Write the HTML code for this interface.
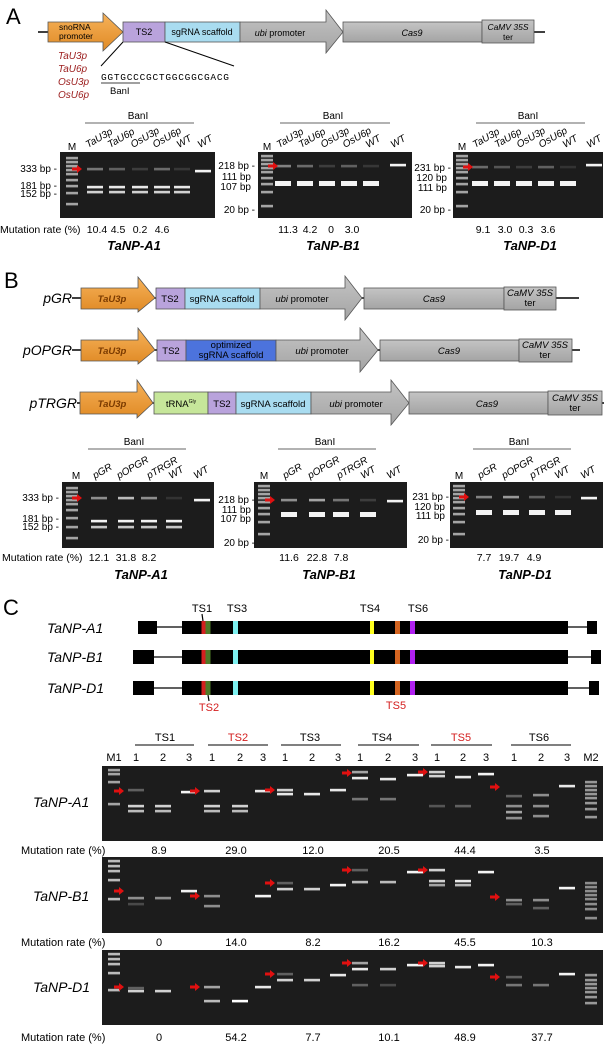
<!DOCTYPE html>
<html><head><meta charset="utf-8"><style>
html,body{margin:0;padding:0;background:#fff;}
svg{display:block;font-family:"Liberation Sans",Arial,sans-serif;}
.it{font-style:italic}
.b{font-weight:bold}
</style></head><body>
<svg id="s" width="608" height="1044" viewBox="0 0 608 1044" xmlns="http://www.w3.org/2000/svg">
<defs>
<linearGradient id="og" x1="0" y1="0" x2="0" y2="1"><stop offset="0" stop-color="#f6b25a"/><stop offset="1" stop-color="#e08a25"/></linearGradient>
<linearGradient id="gg" x1="0" y1="0" x2="0" y2="1"><stop offset="0" stop-color="#c4c4c4"/><stop offset="1" stop-color="#a4a4a4"/></linearGradient>
</defs>
<g id="gels"></g>
<!-- Panel A -->
<text x="6" y="24" font-size="22">A</text>
<line x1="38" y1="32" x2="545" y2="32" stroke="#000" stroke-width="1.5"/>
<polygon points="48,22 103,22 103,13 123,32 103,51 103,42 48,42" fill="url(#og)" stroke="#555" stroke-width="0.8"/>
<rect x="123" y="22" width="42" height="20" fill="#b9a3dc" stroke="#555" stroke-width="0.8"/>
<rect x="165" y="22" width="75" height="20" fill="#a9dcf0" stroke="#555" stroke-width="0.8"/>
<polygon points="240,22 326,22 326,10 343,32 326,53 326,42 240,42" fill="url(#gg)" stroke="#555" stroke-width="0.8"/>
<rect x="343" y="22" width="139" height="20" fill="url(#gg)" stroke="#555" stroke-width="0.8"/>
<rect x="482" y="20" width="52" height="23" fill="url(#gg)" stroke="#555" stroke-width="0.8"/>
<text x="59" y="30" font-size="8.5">snoRNA</text><text x="59" y="39" font-size="8.5">promoter</text>
<text x="144" y="35" font-size="9" text-anchor="middle">TS2</text>
<text x="202" y="35" font-size="9" text-anchor="middle">sgRNA scaffold</text>
<text x="280" y="36" font-size="9" text-anchor="middle"><tspan class="it">ubi</tspan> promoter</text>
<text x="412" y="36" font-size="9" text-anchor="middle" class="it">Cas9</text>
<text x="508" y="30" font-size="8.5" text-anchor="middle" class="it">CaMV 35S</text>
<text x="508" y="40" font-size="8.5" text-anchor="middle">ter</text>
<g fill="#9b1c1c" font-size="10" class="it"><text x="58" y="59">TaU3p</text><text x="58" y="72">TaU6p</text><text x="58" y="85">OsU3p</text><text x="58" y="98">OsU6p</text></g>
<line x1="123" y1="42" x2="101" y2="66" stroke="#000"/><line x1="165" y1="42" x2="234" y2="66" stroke="#000"/>
<text x="101" y="80" font-size="9.5" font-family="Liberation Mono,monospace" textLength="128">GGTGCCCGCTGGCGGCGACG</text>
<line x1="101" y1="83" x2="140" y2="83" stroke="#000" stroke-width="0.8"/>
<text x="110" y="94" font-size="9.5">BanI</text>
<!-- A gel labels -->
<g font-size="10">
<text x="138" y="119" text-anchor="middle">BanI</text><line x1="85" y1="123" x2="194" y2="123" stroke="#666"/>
<text x="333" y="119" text-anchor="middle">BanI</text><line x1="280" y1="123" x2="390" y2="123" stroke="#666"/>
<text x="528" y="119" text-anchor="middle">BanI</text><line x1="476" y1="123" x2="585" y2="123" stroke="#666"/>
<text x="72" y="150" text-anchor="middle">M</text><text x="267" y="150" text-anchor="middle">M</text><text x="462" y="150" text-anchor="middle">M</text>
<g class="it">
<text transform="translate(88,148) rotate(-30)">TaU3p</text><text transform="translate(110,148) rotate(-30)">TaU6p</text><text transform="translate(133,148) rotate(-30)">OsU3p</text><text transform="translate(155,148) rotate(-30)">OsU6p</text><text transform="translate(179,148) rotate(-30)">WT</text><text transform="translate(200,148) rotate(-30)">WT</text>
<text transform="translate(279,148) rotate(-30)">TaU3p</text><text transform="translate(301,148) rotate(-30)">TaU6p</text><text transform="translate(323,148) rotate(-30)">OsU3p</text><text transform="translate(345,148) rotate(-30)">OsU6p</text><text transform="translate(368,148) rotate(-30)">WT</text><text transform="translate(393,148) rotate(-30)">WT</text>
<text transform="translate(475,148) rotate(-30)">TaU3p</text><text transform="translate(497,148) rotate(-30)">TaU6p</text><text transform="translate(519,148) rotate(-30)">OsU3p</text><text transform="translate(541,148) rotate(-30)">OsU6p</text><text transform="translate(565,148) rotate(-30)">WT</text><text transform="translate(589,148) rotate(-30)">WT</text>
</g>
<g text-anchor="end">
<text x="57" y="172">333 bp -</text><text x="57" y="189">181 bp -</text><text x="57" y="197">152 bp -</text>
<text x="255" y="169">218 bp -</text><text x="251" y="180">111 bp</text><text x="251" y="190">107 bp</text><text x="255" y="213">20 bp -</text>
<text x="451" y="171">231 bp -</text><text x="447" y="181">120 bp</text><text x="447" y="191">111 bp</text><text x="451" y="213">20 bp -</text>
</g>
<text x="0" y="233" font-size="10.5">Mutation rate (%)</text>
<g font-size="10.5" text-anchor="middle">
<text x="97" y="233">10.4</text><text x="118" y="233">4.5</text><text x="140" y="233">0.2</text><text x="162" y="233">4.6</text>
<text x="288" y="233">11.3</text><text x="310" y="233">4.2</text><text x="331" y="233">0</text><text x="352" y="233">3.0</text>
<text x="483" y="233">9.1</text><text x="505" y="233">3.0</text><text x="526" y="233">0.3</text><text x="548" y="233">3.6</text>
</g>
</g>
<g font-size="13" class="it b" text-anchor="middle"><text x="134" y="250">TaNP-A1</text><text x="333" y="250">TaNP-B1</text><text x="530" y="250">TaNP-D1</text></g>

<!-- Panel B -->
<text x="4" y="288" font-size="22">B</text>
<g font-size="14" class="it" text-anchor="end"><text x="72" y="303">pGR</text><text x="72" y="355">pOPGR</text><text x="77" y="408">pTRGR</text></g>
<line x1="72" y1="298" x2="579" y2="298" stroke="#000" stroke-width="1.5"/>
<line x1="72" y1="350" x2="580" y2="350" stroke="#000" stroke-width="1.5"/>
<line x1="77" y1="403" x2="604" y2="403" stroke="#000" stroke-width="1.5"/>
<g stroke="#555" stroke-width="0.8">
<polygon points="81,288 138,288 138,277 155,298 138,312 138,309 81,309" fill="url(#og)"/>
<rect x="156" y="288" width="29" height="21" fill="#b9a3dc"/><rect x="185" y="288" width="75" height="21" fill="#a9dcf0"/>
<polygon points="260,288 345,288 345,276 362,298 345,320 345,309 260,309" fill="url(#gg)"/>
<rect x="364" y="288" width="140" height="21" fill="url(#gg)"/><rect x="504" y="287" width="52" height="23" fill="url(#gg)"/>
<polygon points="81,340 138,340 138,328 155,350 138,364 138,361 81,361" fill="url(#og)"/>
<rect x="157" y="340" width="29" height="21" fill="#b9a3dc"/><rect x="186" y="340" width="90" height="21" fill="#4c73dd"/>
<polygon points="276,340 360,340 360,328 378,350 360,372 360,361 276,361" fill="url(#gg)"/>
<rect x="380" y="340" width="139" height="21" fill="url(#gg)"/><rect x="519" y="339" width="53" height="23" fill="url(#gg)"/>
<polygon points="80,392 137,392 137,380 153,403 137,418 137,414 80,414" fill="url(#og)"/>
<rect x="154" y="392" width="54" height="22" fill="#c6e69a"/><rect x="208" y="392" width="28" height="22" fill="#b9a3dc"/><rect x="236" y="392" width="75" height="22" fill="#a9dcf0"/>
<polygon points="311,392 391,392 391,380 409,403 391,425 391,414 311,414" fill="url(#gg)"/>
<rect x="409" y="392" width="139" height="22" fill="url(#gg)"/><rect x="548" y="391" width="54" height="24" fill="url(#gg)"/>
</g>
<g font-size="9.5">
<text x="112" y="302" text-anchor="middle" class="it b" fill="#7a3a00">TaU3p</text>
<text x="112" y="354" text-anchor="middle" class="it b" fill="#7a3a00">TaU3p</text>
<text x="112" y="407" text-anchor="middle" class="it b" fill="#7a3a00">TaU3p</text>
<text x="170" y="302" text-anchor="middle">TS2</text><text x="222" y="302" text-anchor="middle">sgRNA scaffold</text>
<text x="302" y="302" text-anchor="middle"><tspan class="it">ubi</tspan> promoter</text><text x="434" y="302" text-anchor="middle" class="it">Cas9</text>
<text x="530" y="296" text-anchor="middle" class="it">CaMV 35S</text><text x="530" y="306" text-anchor="middle">ter</text>
<text x="171" y="354" text-anchor="middle">TS2</text><text x="231" y="348" text-anchor="middle">optimized</text><text x="231" y="358" text-anchor="middle">sgRNA scaffold</text>
<text x="322" y="354" text-anchor="middle"><tspan class="it">ubi</tspan> promoter</text><text x="449" y="354" text-anchor="middle" class="it">Cas9</text>
<text x="545" y="348" text-anchor="middle" class="it">CaMV 35S</text><text x="545" y="358" text-anchor="middle">ter</text>
<text x="181" y="407" text-anchor="middle">tRNA<tspan font-size="5" dy="-4">Gly</tspan></text><text x="222" y="407" text-anchor="middle">TS2</text><text x="273" y="407" text-anchor="middle">sgRNA scaffold</text>
<text x="356" y="407" text-anchor="middle"><tspan class="it">ubi</tspan> promoter</text><text x="487" y="407" text-anchor="middle" class="it">Cas9</text>
<text x="575" y="401" text-anchor="middle" class="it">CaMV 35S</text><text x="575" y="411" text-anchor="middle">ter</text>
</g>
<g font-size="10">
<text x="134" y="445" text-anchor="middle">BanI</text><line x1="88" y1="449" x2="186" y2="449" stroke="#666"/>
<text x="325" y="445" text-anchor="middle">BanI</text><line x1="278" y1="449" x2="376" y2="449" stroke="#666"/>
<text x="519" y="445" text-anchor="middle">BanI</text><line x1="473" y1="449" x2="571" y2="449" stroke="#666"/>
<text x="76" y="479" text-anchor="middle">M</text><text x="264" y="479" text-anchor="middle">M</text><text x="459" y="479" text-anchor="middle">M</text>
<g class="it">
<text transform="translate(95,479) rotate(-30)">pGR</text><text transform="translate(119,479) rotate(-30)">pOPGR</text><text transform="translate(149,479) rotate(-30)">pTRGR</text><text transform="translate(171,479) rotate(-30)">WT</text><text transform="translate(196,479) rotate(-30)">WT</text>
<text transform="translate(285,479) rotate(-30)">pGR</text><text transform="translate(310,479) rotate(-30)">pOPGR</text><text transform="translate(339,479) rotate(-30)">pTRGR</text><text transform="translate(363,479) rotate(-30)">WT</text><text transform="translate(389,479) rotate(-30)">WT</text>
<text transform="translate(480,479) rotate(-30)">pGR</text><text transform="translate(504,479) rotate(-30)">pOPGR</text><text transform="translate(532,479) rotate(-30)">pTRGR</text><text transform="translate(557,479) rotate(-30)">WT</text><text transform="translate(583,479) rotate(-30)">WT</text>
</g>
<g text-anchor="end">
<text x="59" y="501">333 bp -</text><text x="59" y="522">181 bp -</text><text x="59" y="530">152 bp -</text>
<text x="255" y="503">218 bp -</text><text x="251" y="513">111 bp</text><text x="251" y="522">107 bp</text><text x="255" y="546">20 bp -</text>
<text x="449" y="500">231 bp -</text><text x="445" y="510">120 bp</text><text x="445" y="519">111 bp</text><text x="449" y="543">20 bp -</text>
</g>
<text x="2" y="561" font-size="10.5">Mutation rate (%)</text>
<g font-size="10.5" text-anchor="middle">
<text x="99" y="561">12.1</text><text x="126" y="561">31.8</text><text x="149" y="561">8.2</text>
<text x="289" y="561">11.6</text><text x="317" y="561">22.8</text><text x="341" y="561">7.8</text>
<text x="484" y="561">7.7</text><text x="509" y="561">19.7</text><text x="534" y="561">4.9</text>
</g>
</g>
<g font-size="13" class="it b" text-anchor="middle"><text x="141" y="579">TaNP-A1</text><text x="329" y="579">TaNP-B1</text><text x="525" y="579">TaNP-D1</text></g>

<!-- Panel C -->
<text x="3" y="615" font-size="22">C</text>
<g font-size="14" class="it"><text x="47" y="633">TaNP-A1</text><text x="47" y="662">TaNP-B1</text><text x="47" y="693">TaNP-D1</text></g>
<g stroke="#000" stroke-width="1.2">
<line x1="157" y1="627" x2="182" y2="627"/><line x1="568" y1="627" x2="587" y2="627"/>
<line x1="154" y1="657" x2="182" y2="657"/><line x1="568" y1="657" x2="591" y2="657"/>
<line x1="154" y1="688" x2="182" y2="688"/><line x1="568" y1="688" x2="589" y2="688"/>
<line x1="202" y1="614" x2="203" y2="621"/><line x1="208" y1="695" x2="209" y2="701"/>
</g>
<g fill="#000">
<rect x="138" y="621" width="19" height="13"/><rect x="182" y="621" width="386" height="13"/><rect x="587" y="621" width="10" height="13"/>
<rect x="133" y="650" width="21" height="14"/><rect x="182" y="650" width="386" height="14"/><rect x="591" y="650" width="10" height="14"/>
<rect x="133" y="681" width="21" height="14"/><rect x="182" y="681" width="386" height="14"/><rect x="589" y="681" width="10" height="14"/>
</g>
<g>
<rect x="201.5" y="621" width="4" height="13" fill="#d42020"/><rect x="205.5" y="621" width="5" height="13" fill="#4e7a28"/><rect x="233" y="621" width="5" height="13" fill="#7ef0f0"/><rect x="370" y="621" width="4" height="13" fill="#ffff20"/><rect x="395" y="621" width="5" height="13" fill="#d46420"/><rect x="410" y="621" width="5" height="13" fill="#b020f0"/>
<rect x="201.5" y="650" width="4" height="14" fill="#d42020"/><rect x="205.5" y="650" width="5" height="14" fill="#4e7a28"/><rect x="233" y="650" width="5" height="14" fill="#7ef0f0"/><rect x="370" y="650" width="4" height="14" fill="#ffff20"/><rect x="395" y="650" width="5" height="14" fill="#d46420"/><rect x="410" y="650" width="5" height="14" fill="#b020f0"/>
<rect x="201.5" y="681" width="4" height="14" fill="#d42020"/><rect x="205.5" y="681" width="5" height="14" fill="#4e7a28"/><rect x="233" y="681" width="5" height="14" fill="#7ef0f0"/><rect x="370" y="681" width="4" height="14" fill="#ffff20"/><rect x="395" y="681" width="5" height="14" fill="#d46420"/><rect x="410" y="681" width="5" height="14" fill="#b020f0"/>
</g>
<g font-size="11" text-anchor="middle">
<text x="202" y="612">TS1</text><text x="237" y="612">TS3</text><text x="370" y="612">TS4</text><text x="418" y="612">TS6</text>
<text x="209" y="711" fill="#d42020">TS2</text><text x="396" y="709" fill="#d42020">TS5</text>
<text x="165" y="741">TS1</text><text x="238" y="741" fill="#d42020">TS2</text><text x="310" y="741">TS3</text><text x="382" y="741">TS4</text><text x="461" y="741" fill="#d42020">TS5</text><text x="539" y="741">TS6</text>
<text x="114" y="761">M1</text><text x="136" y="761">1</text><text x="163" y="761">2</text><text x="189" y="761">3</text>
<text x="212" y="761">1</text><text x="240" y="761">2</text><text x="263" y="761">3</text>
<text x="285" y="761">1</text><text x="312" y="761">2</text><text x="338" y="761">3</text>
<text x="360" y="761">1</text><text x="388" y="761">2</text><text x="415" y="761">3</text>
<text x="437" y="761">1</text><text x="463" y="761">2</text><text x="486" y="761">3</text>
<text x="514" y="761">1</text><text x="541" y="761">2</text><text x="567" y="761">3</text><text x="591" y="761">M2</text>
<text x="159" y="854">8.9</text><text x="236" y="854">29.0</text><text x="313" y="854">12.0</text><text x="389" y="854">20.5</text><text x="465" y="854">44.4</text><text x="542" y="854">3.5</text>
<text x="159" y="946">0</text><text x="236" y="946">14.0</text><text x="313" y="946">8.2</text><text x="389" y="946">16.2</text><text x="465" y="946">45.5</text><text x="542" y="946">10.3</text>
<text x="159" y="1041">0</text><text x="236" y="1041">54.2</text><text x="313" y="1041">7.7</text><text x="389" y="1041">10.1</text><text x="465" y="1041">48.9</text><text x="542" y="1041">37.7</text>
</g>
<g font-size="11"><text x="21" y="854">Mutation rate (%)</text><text x="21" y="946">Mutation rate (%)</text><text x="21" y="1041">Mutation rate (%)</text></g>
<g font-size="14" class="it"><text x="33" y="807">TaNP-A1</text><text x="33" y="901">TaNP-B1</text><text x="33" y="992">TaNP-D1</text></g>
<g stroke="#000" stroke-width="1"><line x1="135" y1="745" x2="194" y2="745"/><line x1="208" y1="745" x2="268" y2="745"/><line x1="281" y1="745" x2="341" y2="745"/><line x1="358" y1="745" x2="419" y2="745"/><line x1="431" y1="745" x2="492" y2="745"/><line x1="511" y1="745" x2="571" y2="745"/></g>
</svg>
<script>
var NS="http://www.w3.org/2000/svg",G=document.getElementById("gels");
function r(x,y,w,h,f,o){var e=document.createElementNS(NS,"rect");e.setAttribute("x",x);e.setAttribute("y",y);e.setAttribute("width",w);e.setAttribute("height",h);e.setAttribute("fill",f);if(o!=null)e.setAttribute("opacity",o);G.appendChild(e);}
function gel(x0,y0,x1,y1){r(x0,y0,x1-x0,y1-y0,"#1c1c1c");}
function b(c,y,o,w){w=w||16;r(c-w/2,y-1.2,w,2.6,"#fff",o);}
function ar(x,y){var e=document.createElementNS(NS,"polygon");e.setAttribute("points",(x-8)+","+(y-1.5)+" "+(x-3)+","+(y-1.5)+" "+(x-3)+","+(y-4)+" "+(x+2)+","+y+" "+(x-3)+","+(y+4)+" "+(x-3)+","+(y+1.5)+" "+(x-8)+","+(y+1.5));e.setAttribute("fill","#e01010");G.appendChild(e);}
function lad(c,ys,o){ys.forEach(function(y){b(c,y,o||.6,12);});}
gel(60,152,215,218);gel(258,152,412,218);gel(453,152,603,218);
lad(72,[158,162,166,170,174,180,186,193,204]);
[95,117,140,162,182].forEach(function(c,i){b(c,169,[.4,.3,.15,.35,.12][i]);b(c,187,.9);b(c,192,.8);});b(203,171,.95);ar(80,169);
lad(267,[156,160,164,168,172,178,184,192,206]);
[283,305,327,349,371].forEach(function(c,i){b(c,166,[.45,.35,.15,.3,.12][i]);r(c-8,181,16,5,"#fff",.95);});b(398,165,.95);ar(276,166);
lad(462,[156,160,164,168,172,178,184,192,206]);
[480,502,524,546,568].forEach(function(c,i){b(c,167,[.35,.25,.15,.3,.1][i]);r(c-8,181,16,5,"#fff",.95);});b(594,165,.95);ar(471,167);
gel(62,482,214,548);gel(254,482,407,548);gel(450,482,603,548);
lad(72,[488,492,496,500,504,510,518,527,538]);
[99,126,149,174].forEach(function(c,i){b(c,498,[.5,.7,.5,.1][i]);b(c,521,.95);b(c,527,.75);});b(202,500,.95);ar(80,498);
lad(264,[486,490,494,498,502,508,514,522,534]);
[289,317,341,368].forEach(function(c,i){b(c,500,[.5,.6,.4,.15][i]);r(c-8,512,16,5,"#fff",.95);});b(395,501,.95);ar(273,500);
lad(459,[486,490,494,498,502,508,514,522,534]);
[484,511,537,563].forEach(function(c,i){b(c,497,[.45,.55,.3,.1][i]);r(c-8,510,16,5,"#fff",.95);});b(589,498,.95);ar(467,497);
var L=[136,163,189,212,240,263,285,312,338,360,388,415,437,463,486,514,541,567];
gel(102,766,603,841);gel(102,857,603,933);gel(102,950,603,1025);
lad(114,[770,774,782,804],.6);lad(591,[782,786,790,794,798,803,809,817],.55);
lad(114,[861,866,871,880,899],.7);lad(591,[883,887,891,895,899,904,909,918],.5);
lad(114,[954,959,964,973,990],.7);lad(591,[975,980,984,988,992,997,1003],.55);
var A=[[[790,.3],[806,.8],[811,.7]],[[806,.8],[811,.7]],[[792,.95]],[[791,.8],[806,.8],[811,.7]],[[806,.8],[811,.7]],[[791,.9]],[[790,.8],[794,.9]],[[794,.9]],[[790,.9]],[[772,.6],[778,.9],[799,.4]],[[779,.9],[799,.4]],[[775,.95]],[[772,.8],[776,.8],[806,.25]],[[777,.9],[806,.3]],[[774,.95]],[[796,.3],[806,.5],[812,.6],[818,.5]],[[795,.5],[806,.5],[816,.5]],[[786,.9]]];
var B=[[[898,.5],[904,.2]],[[898,.5]],[[891,.95]],[[896,.5],[906,.5]],[],[[896,.95]],[[883,.3],[889,.8]],[[889,.8]],[[885,.95]],[[870,.3],[882,.7]],[[882,.7]],[[872,.95]],[[870,.8],[881,.8],[885,.6]],[[881,.9],[885,.7]],[[872,.95]],[[900,.5],[904,.3]],[[900,.5],[908,.3]],[[888,.95]]];
var D=[[[991,.8],[988,.3]],[[991,.8]],[],[[987,.6],[1001,.7]],[[1001,1]],[[987,.9]],[[974,.3],[980,.8]],[[980,.8]],[[975,.9]],[[963,.6],[969,.9],[985,.3]],[[969,.8],[985,.2]],[[965,.95]],[[963,.8],[966,.8]],[[967,.9]],[[965,.95]],[[977,.3],[985,.4]],[[985,.4]],[[974,.95]]];
[A,B,D].forEach(function(S){S.forEach(function(ls,i){ls.forEach(function(q){b(L[i],q[0],q[1]);});});});
[[122,791],[198,791],[273,790],[350,773],[426,772],[498,787],[122,891],[198,896],[273,883],[350,870],[426,870],[498,897],[122,987],[198,987],[273,974],[350,963],[426,963],[498,977]].forEach(function(p){ar(p[0],p[1]);});
</script>
</body></html>
